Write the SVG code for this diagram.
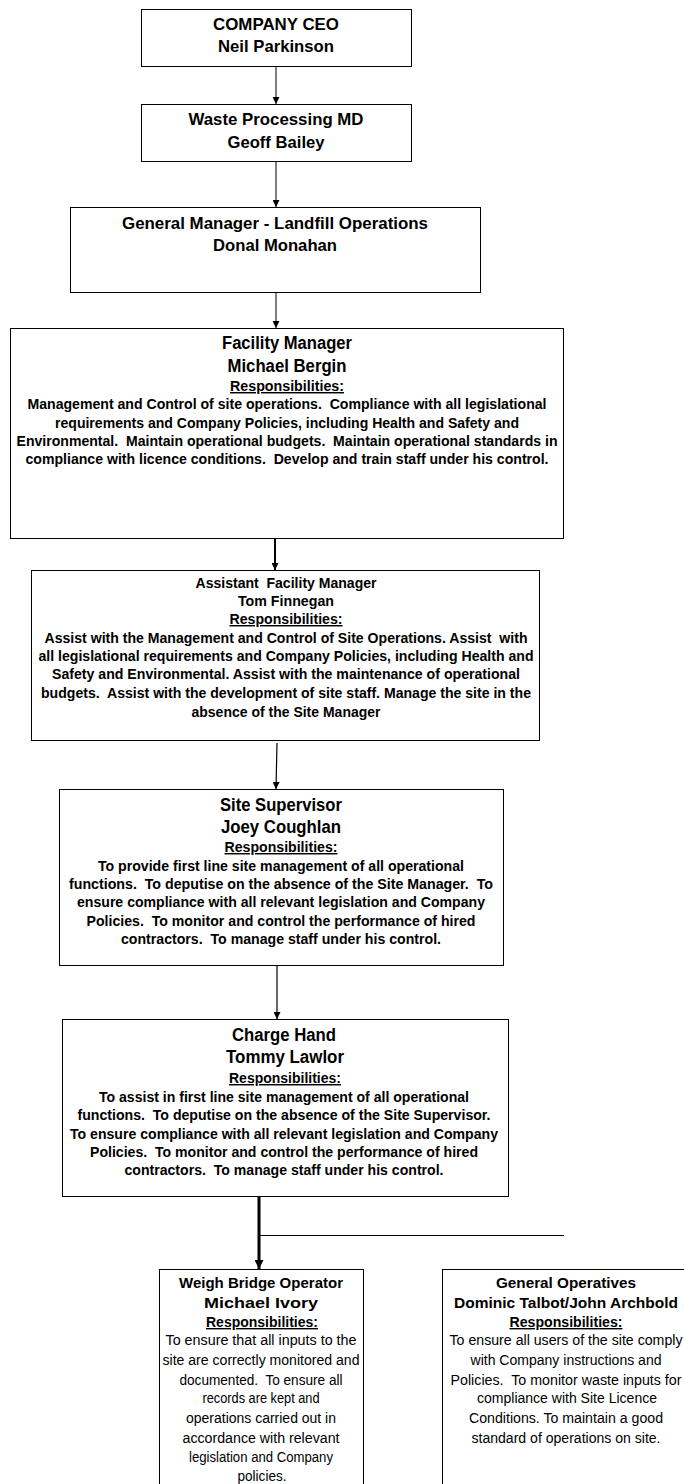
<svg xmlns="http://www.w3.org/2000/svg" width="684" height="1484" viewBox="0 0 684 1484">
<style>
.box{fill:#fff;stroke:#000;stroke-width:1}
text{font-family:"Liberation Sans Narrow","Liberation Sans",Arial,sans-serif;text-anchor:middle;fill:#000;white-space:pre}
.hd{font-weight:bold;font-size:16.5px}
.hl{font-weight:bold;font-size:17.5px}
.hm{font-weight:bold;font-size:15px}
.rs{font-weight:bold;font-size:14.5px;text-decoration:underline}
.bd{font-weight:bold;font-size:15px}
.ws{font-family:"Liberation Sans",Arial,sans-serif;font-size:15px;font-weight:bold}
.wr{font-family:"Liberation Sans",Arial,sans-serif;font-size:14px;font-weight:bold;text-decoration:underline}
.wb{font-family:"Liberation Sans",Arial,sans-serif;font-size:14px}
.cn{stroke:#000;fill:none}
</style>
<defs>
<marker id="ah" viewBox="0 0 8 8" refX="8" refY="4" markerWidth="8" markerHeight="7" markerUnits="userSpaceOnUse" orient="auto"><path d="M0,0 L8,4 L0,8 z" fill="#000"/></marker>
<marker id="ahb" viewBox="0 0 8 8" refX="8" refY="4" markerWidth="9" markerHeight="9" markerUnits="userSpaceOnUse" orient="auto"><path d="M0,0 L8,4 L0,8 z" fill="#000"/></marker>
</defs>

<g id="connectors">
<line class="cn" x1="276" y1="66.5" x2="276" y2="104" stroke-width="1" marker-end="url(#ah)"/>
<line class="cn" x1="276" y1="161.5" x2="276" y2="207" stroke-width="1" marker-end="url(#ah)"/>
<line class="cn" x1="276" y1="292.5" x2="276" y2="328" stroke-width="1" marker-end="url(#ah)"/>
<line class="cn" x1="275" y1="539" x2="275" y2="570" stroke-width="2" marker-end="url(#ah)"/>
<line class="cn" x1="277" y1="743" x2="276" y2="789" stroke-width="1.2" marker-end="url(#ah)"/>
<line class="cn" x1="277" y1="966" x2="277" y2="1019" stroke-width="1.2" marker-end="url(#ah)"/>
<line class="cn" x1="259" y1="1197" x2="259" y2="1269" stroke-width="3" marker-end="url(#ahb)"/>
<line class="cn" x1="260" y1="1235.5" x2="564" y2="1235.5" stroke-width="1"/>
</g>

<g id="ceo">
<rect class="box" x="141.5" y="9.5" width="270" height="57"/>
<text class="hd" x="276" y="30" textLength="126" lengthAdjust="spacingAndGlyphs">COMPANY CEO</text>
<text class="hd" x="276" y="52" textLength="116" lengthAdjust="spacingAndGlyphs">Neil Parkinson</text>
</g>

<g id="md">
<rect class="box" x="141.5" y="104.5" width="270" height="57"/>
<text class="hd" x="276" y="125" textLength="175" lengthAdjust="spacingAndGlyphs">Waste Processing MD</text>
<text class="hd" x="276" y="148" textLength="97" lengthAdjust="spacingAndGlyphs">Geoff Bailey</text>
</g>

<g id="gm">
<rect class="box" x="70.5" y="207.5" width="410" height="85"/>
<text class="hd" x="275" y="229" textLength="306" lengthAdjust="spacingAndGlyphs">General Manager - Landfill Operations</text>
<text class="hd" x="275" y="251" textLength="124" lengthAdjust="spacingAndGlyphs">Donal Monahan</text>
</g>

<g id="fm">
<rect class="box" x="10.5" y="328.5" width="553" height="210"/>
<text class="hl" x="287" y="349" textLength="130" lengthAdjust="spacingAndGlyphs">Facility Manager</text>
<text class="hl" x="287" y="372" textLength="119" lengthAdjust="spacingAndGlyphs">Michael Bergin</text>
<text class="rs" x="287" y="391" textLength="114" lengthAdjust="spacingAndGlyphs">Responsibilities:</text>
<text class="bd" x="287" y="409" textLength="519" lengthAdjust="spacingAndGlyphs">Management and Control of site operations.  Compliance with all legislational</text>
<text class="bd" x="287" y="428" textLength="464" lengthAdjust="spacingAndGlyphs">requirements and Company Policies, including Health and Safety and</text>
<text class="bd" x="287" y="446" textLength="541" lengthAdjust="spacingAndGlyphs">Environmental.  Maintain operational budgets.  Maintain operational standards in</text>
<text class="bd" x="287" y="464" textLength="523" lengthAdjust="spacingAndGlyphs">compliance with licence conditions.  Develop and train staff under his control.</text>
</g>

<g id="afm">
<rect class="box" x="31.5" y="570.5" width="508" height="170"/>
<text class="hm" x="286" y="588" textLength="181" lengthAdjust="spacingAndGlyphs">Assistant  Facility Manager</text>
<text class="hm" x="286" y="606" textLength="96" lengthAdjust="spacingAndGlyphs">Tom Finnegan</text>
<text class="rs" x="286" y="624" textLength="113" lengthAdjust="spacingAndGlyphs">Responsibilities:</text>
<text class="bd" x="286" y="643" textLength="483" lengthAdjust="spacingAndGlyphs">Assist with the Management and Control of Site Operations. Assist  with</text>
<text class="bd" x="286" y="661" textLength="495" lengthAdjust="spacingAndGlyphs">all legislational requirements and Company Policies, including Health and</text>
<text class="bd" x="286" y="679" textLength="468" lengthAdjust="spacingAndGlyphs">Safety and Environmental. Assist with the maintenance of operational</text>
<text class="bd" x="286" y="698" textLength="490" lengthAdjust="spacingAndGlyphs">budgets.  Assist with the development of site staff. Manage the site in the</text>
<text class="bd" x="286" y="717" textLength="189" lengthAdjust="spacingAndGlyphs">absence of the Site Manager</text>
</g>

<g id="ss">
<rect class="box" x="59.5" y="789.5" width="444" height="176"/>
<text class="hl" x="281" y="811" textLength="122" lengthAdjust="spacingAndGlyphs">Site Supervisor</text>
<text class="hl" x="281" y="833" textLength="120" lengthAdjust="spacingAndGlyphs">Joey Coughlan</text>
<text class="rs" x="281" y="852" textLength="113" lengthAdjust="spacingAndGlyphs">Responsibilities:</text>
<text class="bd" x="281" y="871" textLength="366" lengthAdjust="spacingAndGlyphs">To provide first line site management of all operational</text>
<text class="bd" x="281" y="889" textLength="424" lengthAdjust="spacingAndGlyphs">functions.  To deputise on the absence of the Site Manager.  To</text>
<text class="bd" x="281" y="907" textLength="408" lengthAdjust="spacingAndGlyphs">ensure compliance with all relevant legislation and Company</text>
<text class="bd" x="281" y="926" textLength="389" lengthAdjust="spacingAndGlyphs">Policies.  To monitor and control the performance of hired</text>
<text class="bd" x="281" y="944" textLength="320" lengthAdjust="spacingAndGlyphs">contractors.  To manage staff under his control.</text>
</g>

<g id="ch">
<rect class="box" x="62.5" y="1019.5" width="446" height="177"/>
<text class="hl" x="284" y="1041" textLength="104" lengthAdjust="spacingAndGlyphs">Charge Hand</text>
<text class="hl" x="285" y="1063" textLength="118" lengthAdjust="spacingAndGlyphs">Tommy Lawlor</text>
<text class="rs" x="285" y="1083" textLength="112" lengthAdjust="spacingAndGlyphs">Responsibilities:</text>
<text class="bd" x="284" y="1102" textLength="370" lengthAdjust="spacingAndGlyphs">To assist in first line site management of all operational</text>
<text class="bd" x="284" y="1120" textLength="413" lengthAdjust="spacingAndGlyphs">functions.  To deputise on the absence of the Site Supervisor.</text>
<text class="bd" x="284" y="1139" textLength="428" lengthAdjust="spacingAndGlyphs">To ensure compliance with all relevant legislation and Company</text>
<text class="bd" x="284" y="1157" textLength="388" lengthAdjust="spacingAndGlyphs">Policies.  To monitor and control the performance of hired</text>
<text class="bd" x="284" y="1175" textLength="319" lengthAdjust="spacingAndGlyphs">contractors.  To manage staff under his control.</text>
</g>

<g id="wbo">
<rect class="box" x="159.5" y="1269.5" width="204" height="240"/>
<text class="ws" x="261" y="1288" textLength="164" lengthAdjust="spacingAndGlyphs">Weigh Bridge Operator</text>
<text class="ws" x="261" y="1308" textLength="114" lengthAdjust="spacingAndGlyphs">Michael Ivory</text>
<text class="wr" x="262" y="1327" textLength="112" lengthAdjust="spacingAndGlyphs">Responsibilities:</text>
<text class="wb" x="261" y="1345" textLength="191" lengthAdjust="spacingAndGlyphs">To ensure that all inputs to the</text>
<text class="wb" x="261" y="1365" textLength="197" lengthAdjust="spacingAndGlyphs">site are correctly monitored and</text>
<text class="wb" x="261" y="1385" textLength="163" lengthAdjust="spacingAndGlyphs">documented.  To ensure all</text>
<text class="wb" x="261" y="1403" textLength="117" lengthAdjust="spacingAndGlyphs">records are kept and</text>
<text class="wb" x="261" y="1423" textLength="150" lengthAdjust="spacingAndGlyphs">operations carried out in</text>
<text class="wb" x="261" y="1443" textLength="157" lengthAdjust="spacingAndGlyphs">accordance with relevant</text>
<text class="wb" x="261" y="1462" textLength="144" lengthAdjust="spacingAndGlyphs">legislation and Company</text>
<text class="wb" x="262" y="1481" textLength="49" lengthAdjust="spacingAndGlyphs">policies.</text>
</g>

<g id="go">
<rect class="box" x="442.5" y="1269.5" width="260" height="240"/>
<text class="ws" x="566" y="1288" textLength="140" lengthAdjust="spacingAndGlyphs">General Operatives</text>
<text class="ws" x="566" y="1308" textLength="224" lengthAdjust="spacingAndGlyphs">Dominic Talbot/John Archbold</text>
<text class="wr" x="566" y="1327" textLength="113" lengthAdjust="spacingAndGlyphs">Responsibilities:</text>
<text class="wb" x="566" y="1345" textLength="233" lengthAdjust="spacingAndGlyphs">To ensure all users of the site comply</text>
<text class="wb" x="566" y="1365" textLength="191" lengthAdjust="spacingAndGlyphs">with Company instructions and</text>
<text class="wb" x="566" y="1385" textLength="231" lengthAdjust="spacingAndGlyphs">Policies.  To monitor waste inputs for</text>
<text class="wb" x="567" y="1403" textLength="180" lengthAdjust="spacingAndGlyphs">compliance with Site Licence</text>
<text class="wb" x="566" y="1423" textLength="194" lengthAdjust="spacingAndGlyphs">Conditions. To maintain a good</text>
<text class="wb" x="566" y="1443" textLength="189" lengthAdjust="spacingAndGlyphs">standard of operations on site.</text>
</g>
</svg>
